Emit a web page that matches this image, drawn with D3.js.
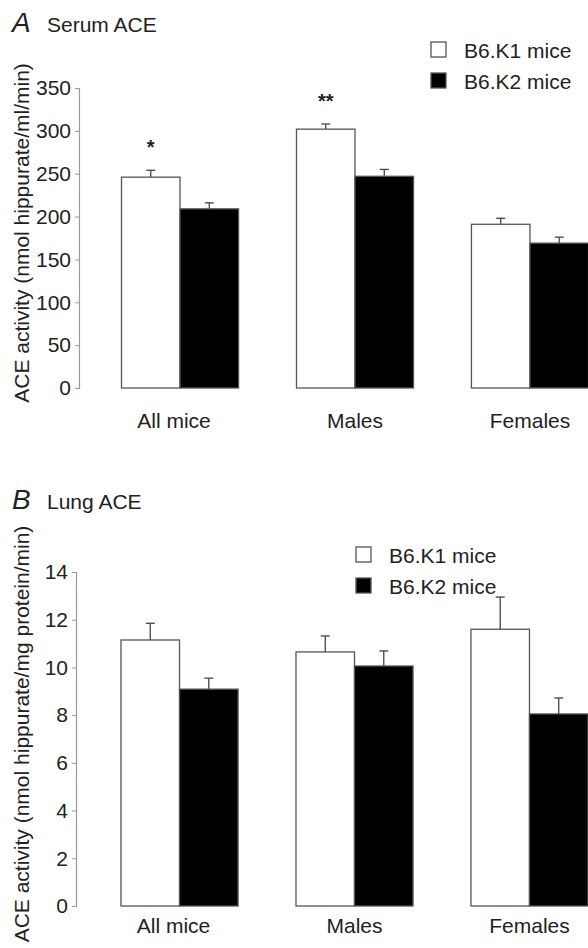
<!DOCTYPE html>
<html>
<head>
<meta charset="utf-8">
<script src="https://cdn.jsdelivr.net/npm/d3@7"></script>
<style>
  body { margin: 0; background: #fff; }
  text { font-family: "Liberation Sans", Arial, sans-serif; fill: #222; }
</style>
</head>
<body>
<div id="chart"></div>
<script>
// Data
const groups = ['All mice', 'Males', 'Females']
const series = ['B6.K1 mice', 'B6.K2 mice']

const serumK1 = [246, 302, 191]
const serumK1Err = [8, 6, 7]
const serumK2 = [209, 247, 169]
const serumK2Err = [7, 8, 7]
const serumStars = ['*', '**', '']
const serumTicks = [0, 50, 100, 150, 200, 250, 300, 350]

const lungK1 = [11.15, 10.65, 11.6]
const lungK1Err = [0.7, 0.67, 1.35]
const lungK2 = [9.09, 10.06, 8.05]
const lungK2Err = [0.46, 0.63, 0.67]
const lungTicks = [0, 2, 4, 6, 8, 10, 12, 14]

const width = 588,
height = 948

const colors = ['#fff', '#000']

let svg = d3.select('#chart')
.append('svg')
.attr('width', width)
.attr('height', height)

let drawPanel = (p) => {
  const g = svg.append('g')

  const yScale = d3.scaleLinear()
  .domain([0, p.max])
  .range([p.bottom, p.top])

  const xScale = d3.scaleBand()
  .domain(groups)
  .range([p.left, p.left + 467])
  .paddingInner(0.331)
  .paddingOuter(0)

  const xInner = d3.scaleBand()
  .domain(series)
  .range([0, xScale.bandwidth()])

  // y axis
  const yAxis = d3.axisLeft(yScale)
  .tickValues(p.ticks)
  .tickSize(4)
  .tickPadding(4)

  const ax = g.append('g')
  .attr('transform', `translate(${p.axisX},0)`)
  .call(yAxis)
  ax.select('.domain').attr('stroke', '#999').attr('stroke-width', 1.2)
  ax.selectAll('.tick line').attr('stroke', '#999')
  ax.selectAll('.tick text')
  .style('font-size', '21px')
  .attr('fill', '#222')

  // bars
  const rows = []
  groups.forEach((grp, i) => {
    series.forEach((s, j) => {
      rows.push({grp: grp, s: s, j: j, v: p.values[j][i], e: p.errors[j][i]})
    })
  })

  const bars = g.selectAll('g.bar')
  .data(rows)
  .enter()
  .append('g')
  .attr('class', 'bar')

  // error bars first (upward only)
  bars.append('line')
  .attr('x1', d => xScale(d.grp) + xInner(d.s) + xInner.bandwidth() / 2)
  .attr('x2', d => xScale(d.grp) + xInner(d.s) + xInner.bandwidth() / 2)
  .attr('y1', d => yScale(d.v))
  .attr('y2', d => yScale(d.v + d.e))
  .attr('stroke', '#444')
  .attr('stroke-width', 1.3)

  bars.append('line')
  .attr('x1', d => xScale(d.grp) + xInner(d.s) + xInner.bandwidth() / 2 - 4.5)
  .attr('x2', d => xScale(d.grp) + xInner(d.s) + xInner.bandwidth() / 2 + 4.5)
  .attr('y1', d => yScale(d.v + d.e))
  .attr('y2', d => yScale(d.v + d.e))
  .attr('stroke', '#444')
  .attr('stroke-width', 1.3)

  bars.append('rect')
  .attr('x', d => xScale(d.grp) + xInner(d.s))
  .attr('y', d => yScale(d.v))
  .attr('width', xInner.bandwidth())
  .attr('height', d => yScale(0) - yScale(d.v))
  .attr('fill', d => colors[d.j])
  .attr('stroke', '#555')
  .attr('stroke-width', 1.3)

  // significance stars
  if (p.stars) {
    g.selectAll('text.star')
    .data(groups)
    .enter()
    .append('text')
    .attr('class', 'star')
    .attr('x', d => xScale(d) + xInner(series[0]) + xInner.bandwidth() / 2)
    .attr('y', (d, i) => yScale(p.values[0][i] + p.errors[0][i]) - p.starGap)
    .attr('text-anchor', 'middle')
    .style('font-size', '20px')
    .style('font-weight', 'bold')
    .text((d, i) => p.stars[i])
  }

  // category labels
  g.selectAll('text.cat')
  .data(groups)
  .enter()
  .append('text')
  .attr('class', 'cat')
  .attr('x', d => xScale(d) + xScale.bandwidth() / 2 - (d === 'All mice' ? 6 : 0))
  .attr('y', p.catY)
  .attr('text-anchor', 'middle')
  .style('font-size', '21px')
  .text(d => d)

  // y label
  g.append('text')
  .attr('transform', `translate(29,${p.labelY}) rotate(-90)`)
  .attr('text-anchor', 'middle')
  .style('font-size', '21px')
  .text(p.yLabel)

  // panel title
  g.append('text')
  .attr('x', 12)
  .attr('y', p.titleY)
  .style('font-size', '28px')
  .style('font-style', 'italic')
  .text(p.letter)

  g.append('text')
  .attr('x', 47)
  .attr('y', p.titleY)
  .style('font-size', '21px')
  .text(p.title)

  // legend
  const leg = g.selectAll('g.leg')
  .data(series)
  .enter()
  .append('g')
  .attr('class', 'leg')
  .attr('transform', (d, i) => `translate(${p.legX},${p.legY + i * 31})`)

  leg.append('rect')
  .attr('width', 15)
  .attr('height', 15)
  .attr('fill', (d, i) => colors[i])
  .attr('stroke', '#555')
  .attr('stroke-width', 1.3)

  leg.append('text')
  .attr('x', 33)
  .attr('y', 16)
  .style('font-size', '21px')
  .text(d => d)
}

drawPanel({
  max: 350, top: 88, bottom: 388, left: 121.5, axisX: 79,
  ticks: serumTicks,
  values: [serumK1, serumK2],
  errors: [serumK1Err, serumK2Err],
  stars: serumStars, starGap: 16,
  catY: 428, labelY: 233,
  yLabel: 'ACE activity (nmol hippurate/ml/min)',
  titleY: 32, letter: 'A', title: 'Serum ACE',
  legX: 431, legY: 42
})

drawPanel({
  max: 14, top: 572, bottom: 906, left: 121, axisX: 76,
  ticks: lungTicks,
  values: [lungK1, lungK2],
  errors: [lungK1Err, lungK2Err],
  stars: null, starGap: 0,
  catY: 933, labelY: 734,
  yLabel: 'ACE activity (nmol hippurate/mg protein/min)',
  titleY: 509, letter: 'B', title: 'Lung ACE',
  legX: 356, legY: 547
})
</script>
</body>
</html>
